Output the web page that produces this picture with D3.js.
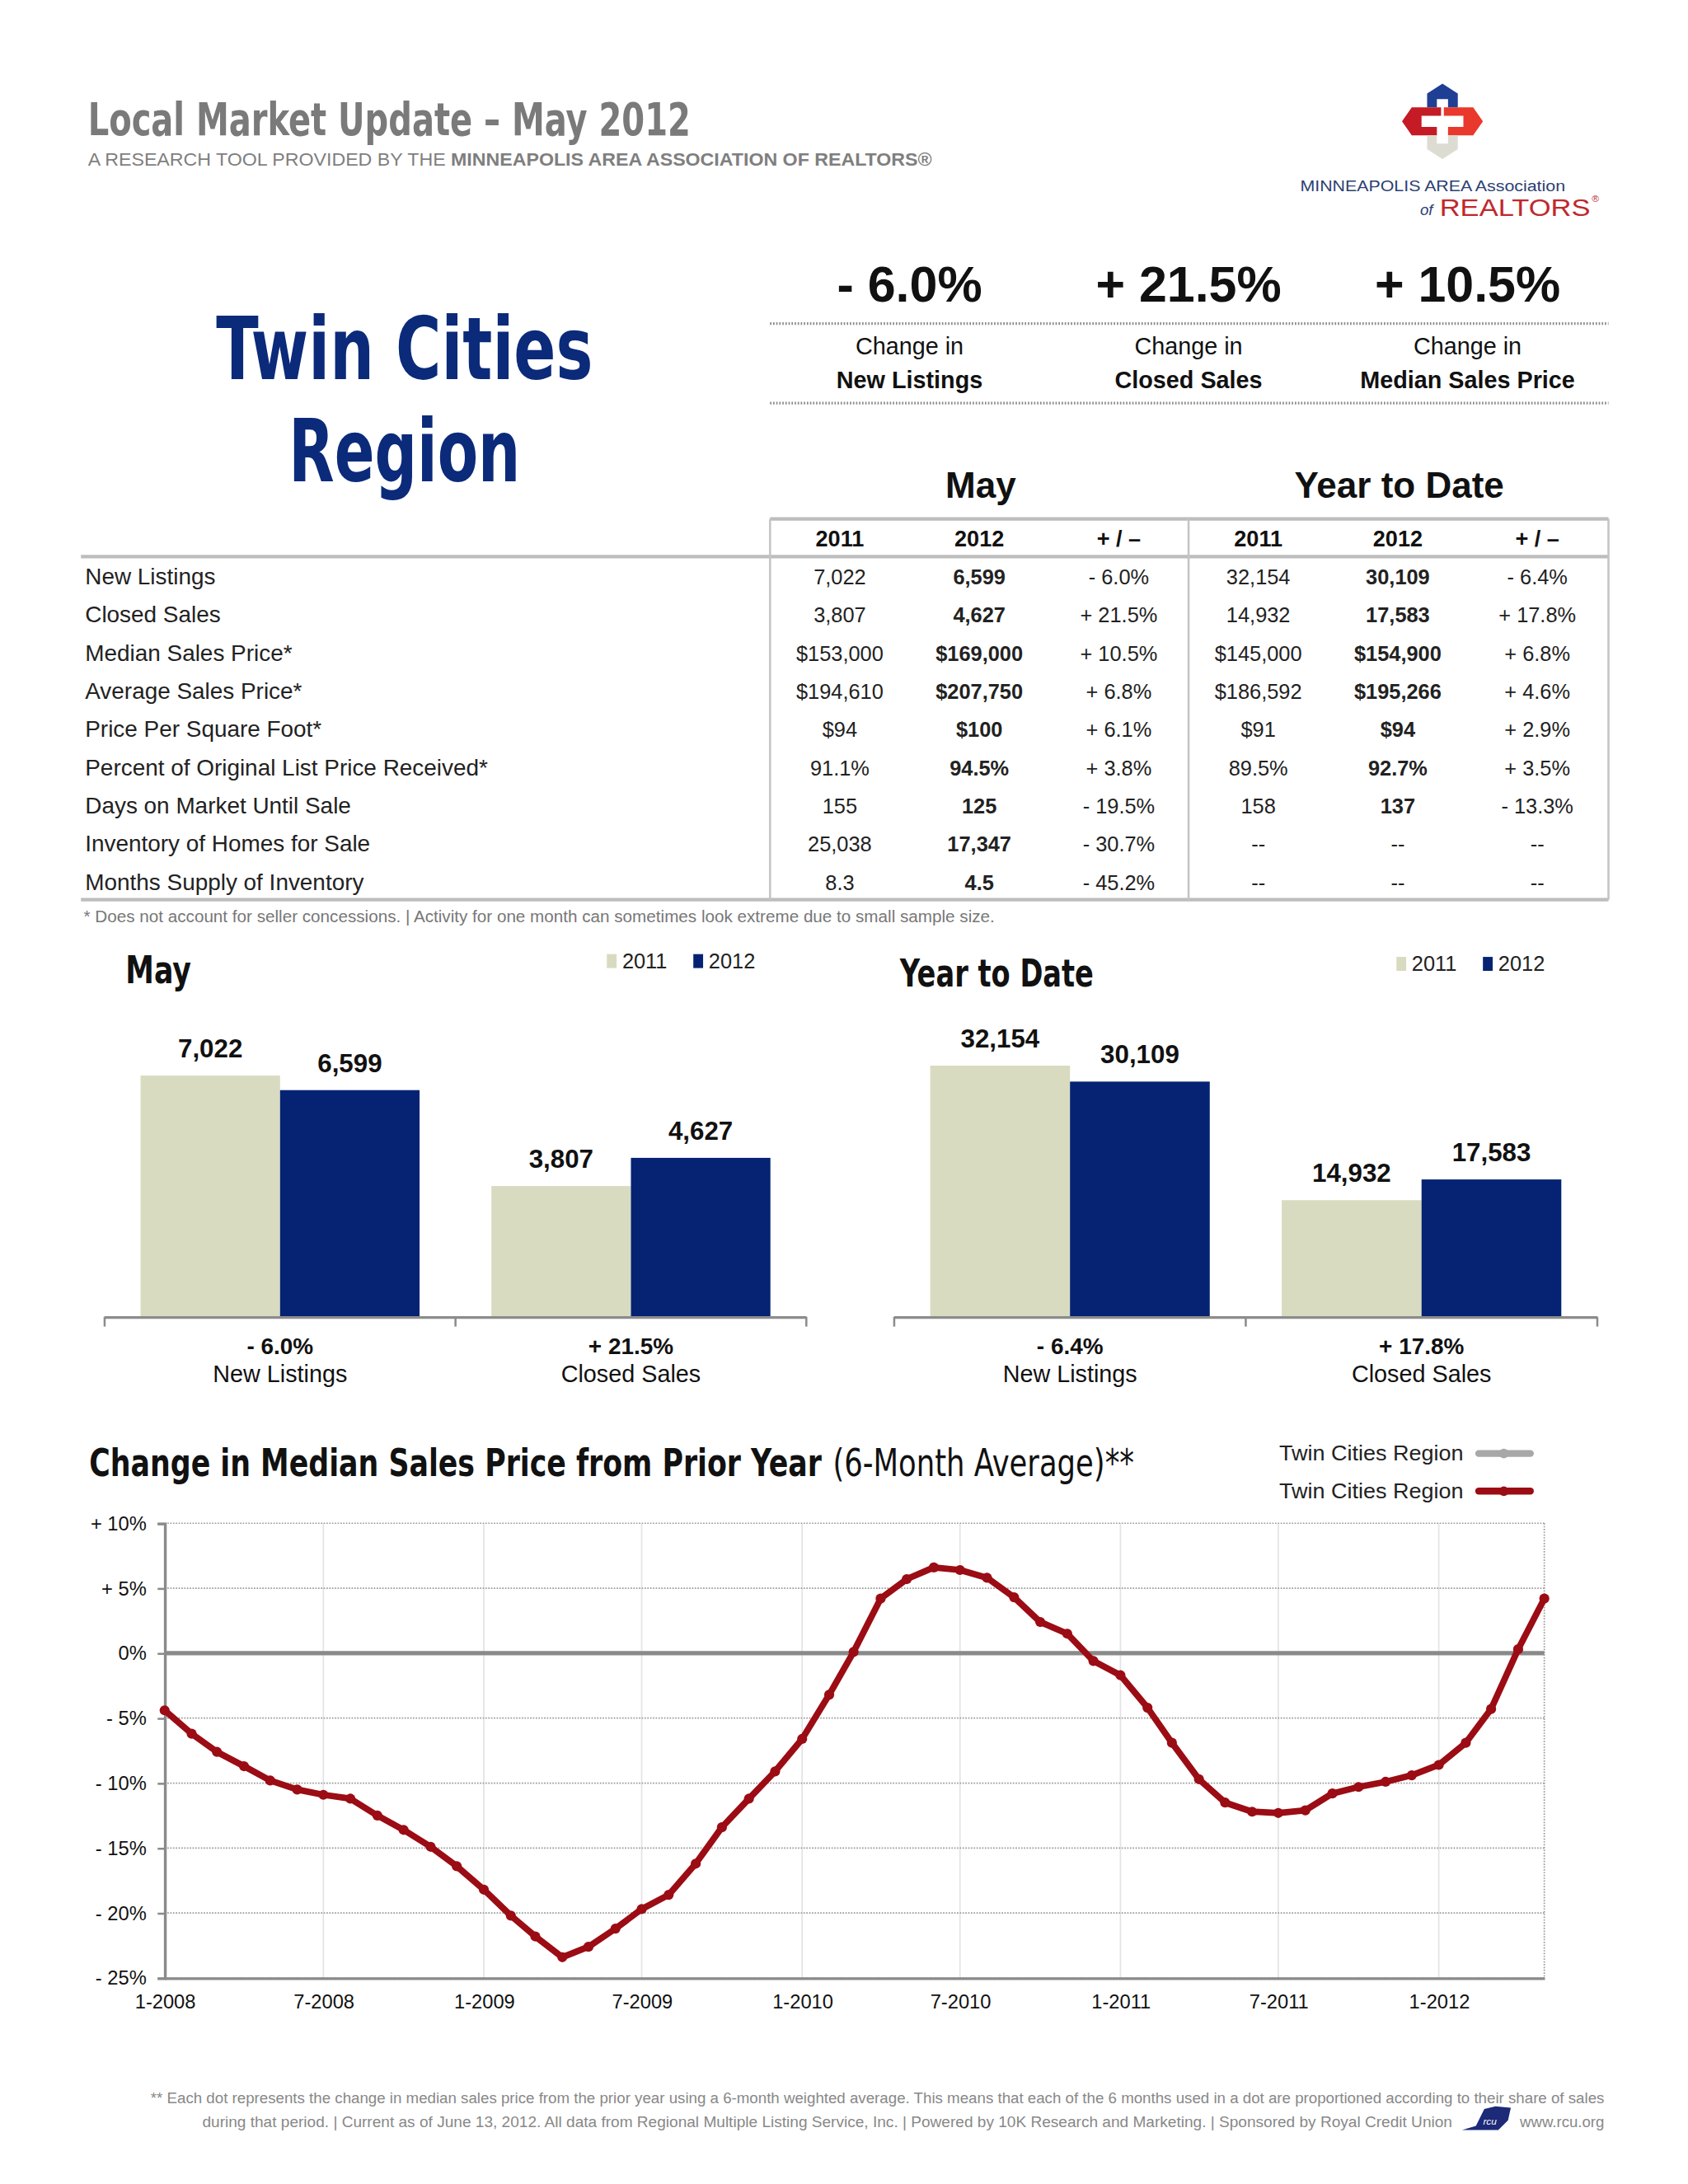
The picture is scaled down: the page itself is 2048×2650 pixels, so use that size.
<!DOCTYPE html>
<html>
<head>
<meta charset="utf-8">
<script src="https://cdn.jsdelivr.net/npm/d3@7"></script>
<style>
  html, body { margin: 0; padding: 0; background: #fff; }
  svg { display: block; }
  .cond { font-family: "Liberation Sans Narrow", "DejaVu Sans Condensed", "Roboto Condensed", sans-serif; font-stretch: condensed; }
  text { font-family: "Liberation Sans", Arial, Helvetica, sans-serif; }
</style>
</head>
<body>
<svg id="chart"></svg>
<script>
// ---- data ----
const headlineChanges = ["- 6.0%", "+ 21.5%", "+ 10.5%"];
const headlineLabels = ["New Listings", "Closed Sales", "Median Sales Price"];

const rowLabels = [
  "New Listings", "Closed Sales", "Median Sales Price*", "Average Sales Price*",
  "Price Per Square Foot*", "Percent of Original List Price Received*",
  "Days on Market Until Sale", "Inventory of Homes for Sale", "Months Supply of Inventory"
];
const may2011 = ["7,022", "3,807", "$153,000", "$194,610", "$94", "91.1%", "155", "25,038", "8.3"];
const may2012 = ["6,599", "4,627", "$169,000", "$207,750", "$100", "94.5%", "125", "17,347", "4.5"];
const mayChange = ["- 6.0%", "+ 21.5%", "+ 10.5%", "+ 6.8%", "+ 6.1%", "+ 3.8%", "- 19.5%", "- 30.7%", "- 45.2%"];
const ytd2011 = ["32,154", "14,932", "$145,000", "$186,592", "$91", "89.5%", "158", "--", "--"];
const ytd2012 = ["30,109", "17,583", "$154,900", "$195,266", "$94", "92.7%", "137", "--", "--"];
const ytdChange = ["- 6.4%", "+ 17.8%", "+ 6.8%", "+ 4.6%", "+ 2.9%", "+ 3.5%", "- 13.3%", "--", "--"];

const barCategories = ["New Listings", "Closed Sales"];
const barYears = ["2011", "2012"];
const mayBars2011 = [7022, 3807];
const mayBars2012 = [6599, 4627];
const mayBarChange = ["- 6.0%", "+ 21.5%"];
const ytdBars2011 = [32154, 14932];
const ytdBars2012 = [30109, 17583];
const ytdBarChange = ["- 6.4%", "+ 17.8%"];

// 6-month avg change in median sales price, 1-2008 .. 5-2012
const priceChange = [
  -4.4, -6.2, -7.6, -8.7, -9.8, -10.5, -10.9, -11.2, -12.5, -13.6, -14.9, -16.4,
  -18.2, -20.2, -21.8, -23.4, -22.6, -21.2, -19.7, -18.6, -16.2, -13.4, -11.2, -9.1,
  -6.6, -3.2, 0.1, 4.2, 5.7, 6.6, 6.4, 5.8, 4.3, 2.4, 1.5, -0.6,
  -1.7, -4.2, -6.9, -9.7, -11.5, -12.2, -12.3, -12.1, -10.8, -10.3, -9.9, -9.4,
  -8.6, -6.9, -4.3, 0.3, 4.2
];
const yTicks = [10, 5, 0, -5, -10, -15, -20, -25];
const yTickLabels = ["+ 10%", "+ 5%", "0%", "- 5%", "- 10%", "- 15%", "- 20%", "- 25%"];
const xTickLabels = ["1-2008", "7-2008", "1-2009", "7-2009", "1-2010", "7-2010", "1-2011", "7-2011", "1-2012"];

const C2011 = "#d8dbc0", C2012 = "#052372", RED = "#9b0c14", NAVY = "#0b2a7a";

// ---- page ----
const W = 1210, H = 1565.7;
const svg = d3.select("#chart")
  .attr("width", 2048).attr("height", 2650)
  .attr("viewBox", `0 0 ${W} ${H}`);

// header
svg.append("text").attr("class", "cond").attr("x", 63).attr("y", 97)
  .attr("font-size", 33).attr("font-weight", "bold").attr("fill", "#7a7a7a")
  .attr("textLength", 432).attr("lengthAdjust", "spacingAndGlyphs")
  .text("Local Market Update – May 2012");
const sub = svg.append("text").attr("x", 63).attr("y", 119).attr("font-size", 13).attr("fill", "#7f7f7f")
  .attr("textLength", 605).attr("lengthAdjust", "spacingAndGlyphs");
sub.append("tspan").text("A RESEARCH TOOL PROVIDED BY THE ");
sub.append("tspan").attr("font-weight", "bold").text("MINNEAPOLIS AREA ASSOCIATION OF REALTORS®");

// logo
const logo = svg.append("g").attr("transform", "translate(1034,87)");
logo.append("path").attr("fill", "#1f3f94")
  .attr("d", "M-11,-10 V-20 L0,-27 L11,-20 V-10 H4 V-16 H-4 V-10 Z");
logo.append("path").attr("fill", "#c41b24")
  .attr("d", "M-1,-10 H-22 L-29,0 L-22,10 H-4 V4 H-15 V-4 H-1 Z");
logo.append("path").attr("fill", "#e8392c")
  .attr("d", "M1,-10 H22 L29,0 L22,10 H4 V4 H15 V-4 H1 Z");
logo.append("path").attr("fill", "#dddcd2")
  .attr("d", "M-11,10 V20 L0,27 L11,20 V10 H4 V16 H-4 V10 Z");
svg.append("text").attr("x", 932).attr("y", 137).attr("font-size", 10.5).attr("fill", "#2c3f72")
  .attr("textLength", 190).attr("lengthAdjust", "spacingAndGlyphs")
  .attr("font-family", "'Open Sans', sans-serif").text("MINNEAPOLIS AREA Association");
svg.append("text").attr("x", 1018).attr("y", 154).attr("font-size", 11).attr("font-style", "italic")
  .attr("fill", "#2c3f72").attr("font-family", "'DejaVu Serif', serif").text("of");
svg.append("text").attr("x", 1032).attr("y", 155).attr("font-size", 17).attr("fill", "#c0282d")
  .attr("font-family", "'Open Sans', sans-serif").attr("textLength", 108).attr("lengthAdjust", "spacingAndGlyphs")
  .text("REALTORS");
svg.append("text").attr("x", 1141).attr("y", 145).attr("font-size", 7).attr("fill", "#c0282d").text("®");

// region title
svg.append("text").attr("class", "cond").attr("x", 290).attr("y", 272).attr("text-anchor", "middle")
  .attr("font-size", 62).attr("font-weight", "bold").attr("fill", NAVY)
  .attr("textLength", 270).attr("lengthAdjust", "spacingAndGlyphs").text("Twin Cities");
svg.append("text").attr("class", "cond").attr("x", 290).attr("y", 345).attr("text-anchor", "middle")
  .attr("font-size", 62).attr("font-weight", "bold").attr("fill", NAVY)
  .attr("textLength", 166).attr("lengthAdjust", "spacingAndGlyphs").text("Region");

// headline changes
const hlX = d3.scalePoint().domain(headlineLabels).range([652, 1052]);
headlineLabels.forEach((lab, i) => {
  svg.append("text").attr("x", hlX(lab)).attr("y", 216).attr("text-anchor", "middle")
    .attr("font-size", 36).attr("font-weight", "bold").attr("fill", "#111").text(headlineChanges[i]);
  svg.append("text").attr("x", hlX(lab)).attr("y", 254).attr("text-anchor", "middle")
    .attr("font-size", 17).attr("fill", "#111").text("Change in");
  svg.append("text").attr("x", hlX(lab)).attr("y", 278).attr("text-anchor", "middle")
    .attr("font-size", 17).attr("font-weight", "bold").attr("fill", "#111").text(lab);
});
[232, 289].forEach(y => svg.append("line").attr("x1", 552).attr("x2", 1153).attr("y1", y).attr("y2", y)
  .attr("stroke", "#8a8a8a").attr("stroke-width", 2).attr("stroke-dasharray", "1,1.2"));

// table
const tbl = svg.append("g");
tbl.append("text").attr("x", 703).attr("y", 357).attr("text-anchor", "middle")
  .attr("font-size", 26).attr("font-weight", "bold").attr("fill", "#111").text("May");
tbl.append("text").attr("x", 1003).attr("y", 357).attr("text-anchor", "middle")
  .attr("font-size", 26).attr("font-weight", "bold").attr("fill", "#111").text("Year to Date");
const colX = d3.scalePoint().domain(d3.range(6)).range([602, 1102]);
const colHead = ["2011", "2012", "+ / –", "2011", "2012", "+ / –"];
colHead.forEach((h, i) => tbl.append("text").attr("x", colX(i)).attr("y", 392).attr("text-anchor", "middle")
  .attr("font-size", 16).attr("font-weight", "bold").attr("fill", "#111").text(h));
const rowY = d3.scalePoint().domain(d3.range(rowLabels.length)).range([413, 632]);
const cols = [may2011, may2012, mayChange, ytd2011, ytd2012, ytdChange];
rowLabels.forEach((lab, r) => {
  const y = rowY(r) + 6;
  tbl.append("text").attr("x", 61).attr("y", y).attr("font-size", 16.5).attr("fill", "#222").text(lab);
  cols.forEach((c, i) => tbl.append("text").attr("x", colX(i)).attr("y", y).attr("text-anchor", "middle")
    .attr("font-size", 15).attr("font-weight", (i === 1 || i === 4) && c[r] !== "--" ? "bold" : "normal")
    .attr("fill", "#222").text(c[r]));
});
[[552, 1153, 372], [58, 1153, 399], [58, 1153, 645]].forEach(([x1, x2, y]) =>
  tbl.append("line").attr("x1", x1).attr("x2", x2).attr("y1", y).attr("y2", y)
    .attr("stroke", "#bdbdbd").attr("stroke-width", 2.5));
[552, 852, 1153].forEach(x => tbl.append("line").attr("x1", x).attr("x2", x).attr("y1", 372).attr("y2", 645)
  .attr("stroke", "#c4c4c4").attr("stroke-width", 1.5));
svg.append("text").attr("x", 60).attr("y", 661).attr("font-size", 11.5).attr("fill", "#777")
  .attr("textLength", 653).attr("lengthAdjust", "spacingAndGlyphs")
  .text("* Does not account for seller concessions.  |  Activity for one month can sometimes look extreme due to small sample size.");

// bar charts
function barChart(opts) {
  const g = svg.append("g");
  g.append("text").attr("class", "cond").attr("x", opts.titleX).attr("y", opts.titleY)
    .attr("font-size", 27).attr("font-weight", "bold").attr("fill", "#111")
    .attr("textLength", opts.titleLen).attr("lengthAdjust", "spacingAndGlyphs").text(opts.title);
  barYears.forEach((yr, i) => {
    const lx = opts.legendX + i * 62;
    g.append("rect").attr("x", lx).attr("y", opts.legendY - 10).attr("width", 7).attr("height", 10)
      .attr("fill", i ? C2012 : C2011);
    g.append("text").attr("x", lx + 11).attr("y", opts.legendY).attr("font-size", 15).attr("fill", "#222").text(yr);
  });
  const x0 = d3.scaleBand().domain(barCategories).range([opts.x0, opts.x1]);
  const x1 = d3.scaleBand().domain(barYears).range([x0.bandwidth() * 0.1024, x0.bandwidth() * 0.8976]);
  const y = d3.scaleLinear().domain([0, opts.max]).range([944, 944 - opts.h]);
  barCategories.forEach((cat, ci) => {
    const vals = [opts.v2011[ci], opts.v2012[ci]];
    barYears.forEach((yr, yi) => {
      const bx = x0(cat) + x1(yr);
      g.append("rect").attr("x", bx).attr("y", y(vals[yi])).attr("width", x1.bandwidth())
        .attr("height", y(0) - y(vals[yi])).attr("fill", yi ? C2012 : C2011);
      g.append("text").attr("x", bx + x1.bandwidth() / 2).attr("y", y(vals[yi]) - 13)
        .attr("text-anchor", "middle").attr("font-size", 18.5).attr("font-weight", "bold").attr("fill", "#111")
        .text(d3.format(",")(vals[yi]));
    });
    const cx = x0(cat) + x0.bandwidth() / 2;
    g.append("text").attr("x", cx).attr("y", 971).attr("text-anchor", "middle")
      .attr("font-size", 16.5).attr("font-weight", "bold").attr("fill", "#111").text(opts.change[ci]);
    g.append("text").attr("x", cx).attr("y", 991).attr("text-anchor", "middle")
      .attr("font-size", 17).attr("fill", "#111").text(cat);
  });
  g.append("line").attr("x1", opts.x0).attr("x2", opts.x1).attr("y1", 944.5).attr("y2", 944.5)
    .attr("stroke", "#8c8c8c").attr("stroke-width", 2);
  [opts.x0, opts.x0 + x0.bandwidth(), opts.x1].forEach(tx =>
    g.append("line").attr("x1", tx).attr("x2", tx).attr("y1", 944).attr("y2", 951)
      .attr("stroke", "#8c8c8c").attr("stroke-width", 1.5));
}
barChart({ title: "May", titleX: 90, titleY: 705, titleLen: 47, legendX: 435, legendY: 694,
  x0: 75, x1: 578, max: 8000, h: 197, v2011: mayBars2011, v2012: mayBars2012, change: mayBarChange });
barChart({ title: "Year to Date", titleX: 645, titleY: 707, titleLen: 139, legendX: 1001, legendY: 696,
  x0: 641, x1: 1145, max: 35000, h: 196, v2011: ytdBars2011, v2012: ytdBars2012, change: ytdBarChange });

// line chart
const lc = svg.append("g");
lc.append("text").attr("class", "cond").attr("x", 64).attr("y", 1058).attr("font-size", 27)
  .attr("font-weight", "bold").attr("fill", "#111").attr("textLength", 525).attr("lengthAdjust", "spacingAndGlyphs")
  .text("Change in Median Sales Price from Prior Year");
lc.append("text").attr("class", "cond").attr("x", 597).attr("y", 1058).attr("font-size", 27)
  .attr("fill", "#111").attr("textLength", 216).attr("lengthAdjust", "spacingAndGlyphs")
  .text("(6-Month Average)**");
[["#a8a8a8", 1047], [RED, 1074]].forEach(([col, ly]) => {
  lc.append("text").attr("x", 917).attr("y", ly).attr("font-size", 15.5).attr("fill", "#222")
    .attr("textLength", 132).attr("lengthAdjust", "spacingAndGlyphs").text("Twin Cities Region");
  lc.append("line").attr("x1", 1060).attr("x2", 1097).attr("y1", ly - 5).attr("y2", ly - 5)
    .attr("stroke", col).attr("stroke-width", 5).attr("stroke-linecap", "round");
  lc.append("circle").attr("cx", 1078).attr("cy", ly - 5).attr("r", 3.5).attr("fill", col);
});

const months = d3.timeMonth.range(new Date(2008, 0, 1), new Date(2008, 0 + priceChange.length, 1));
const x = d3.scaleTime().domain([months[0], months[months.length - 1]]).range([118, 1107]);
const y = d3.scaleLinear().domain([-25, 10]).range([1418, 1092]);
const xTickDates = months.filter((d, i) => i % 6 === 0);

// vertical grid
lc.append("g").selectAll("line").data(xTickDates).join("line")
  .attr("x1", d => x(d)).attr("x2", d => x(d)).attr("y1", 1092).attr("y2", 1418)
  .attr("stroke", "#e3e3e3").attr("stroke-width", 1);
// horizontal dotted grid
lc.append("g").selectAll("line").data(yTicks.filter(t => t !== 0)).join("line")
  .attr("x1", 118).attr("x2", 1107).attr("y1", d => y(d)).attr("y2", d => y(d))
  .attr("stroke", "#9a9a9a").attr("stroke-width", 1).attr("stroke-dasharray", "1,1");
lc.append("line").attr("x1", 1107).attr("x2", 1107).attr("y1", 1092).attr("y2", 1418)
  .attr("stroke", "#9a9a9a").attr("stroke-width", 1).attr("stroke-dasharray", "1,1");
// zero line
lc.append("line").attr("x1", 118).attr("x2", 1107).attr("y1", y(0)).attr("y2", y(0))
  .attr("stroke", "#8a8a8a").attr("stroke-width", 3);

// axes
const yAxis = d3.axisLeft(y).tickValues(yTicks).tickSize(5).tickPadding(8)
  .tickFormat((d, i) => yTickLabels[i]);
const ya = lc.append("g").attr("transform", "translate(118,0)").call(yAxis);
ya.select(".domain").attr("stroke", "#8a8a8a").attr("stroke-width", 2);
ya.selectAll(".tick line").attr("stroke", "#8a8a8a").attr("stroke-width", 1.5);
ya.selectAll(".tick text").attr("font-size", 14).attr("fill", "#111")
  .attr("font-family", "'Liberation Sans', Arial, sans-serif");

const xAxis = d3.axisBottom(x).tickValues(xTickDates).tickSize(0).tickPadding(12)
  .tickFormat((d, i) => xTickLabels[i]);
const xa = lc.append("g").attr("transform", "translate(0,1418)").call(xAxis);
xa.select(".domain").attr("stroke", "#8a8a8a").attr("stroke-width", 2);
xa.selectAll(".tick text").attr("font-size", 14).attr("fill", "#111")
  .attr("font-family", "'Liberation Sans', Arial, sans-serif");

// series
const line = d3.line().x((d, i) => x(months[i])).y(d => y(d));
lc.append("path").datum(priceChange).attr("d", line).attr("fill", "none")
  .attr("stroke", RED).attr("stroke-width", 4.6).attr("stroke-linejoin", "round");
lc.append("g").selectAll("circle").data(priceChange).join("circle")
  .attr("cx", (d, i) => x(months[i])).attr("cy", d => y(d)).attr("r", 3.6).attr("fill", RED);

// footer
svg.append("text").attr("x", 108).attr("y", 1508).attr("font-size", 11).attr("fill", "#888")
  .attr("textLength", 1042).attr("lengthAdjust", "spacingAndGlyphs")
  .text("** Each dot represents the change in median sales price from the prior year using a 6-month weighted average. This means that each of the 6 months used in a dot are proportioned according to their share of sales");
svg.append("text").attr("x", 145).attr("y", 1525).attr("font-size", 11).attr("fill", "#888")
  .attr("textLength", 896).attr("lengthAdjust", "spacingAndGlyphs")
  .text("during that period.  |  Current as of June 13, 2012. All data from Regional Multiple Listing Service, Inc.  |  Powered by 10K Research and Marketing.  |  Sponsored by Royal Credit Union");
svg.append("path").attr("fill", "#1c2a78")
  .attr("d", "M1048,1527 L1058,1524 L1064,1512 L1072,1510 L1083,1511 L1081,1520 L1074,1527 Z");
svg.append("text").attr("x", 1068).attr("y", 1523).attr("text-anchor", "middle").attr("font-size", 7)
  .attr("font-style", "italic").attr("fill", "#fff").text("rcu");
svg.append("text").attr("x", 1150).attr("y", 1525).attr("text-anchor", "end").attr("font-size", 11)
  .attr("fill", "#888").text("www.rcu.org");
</script>
</body>
</html>
